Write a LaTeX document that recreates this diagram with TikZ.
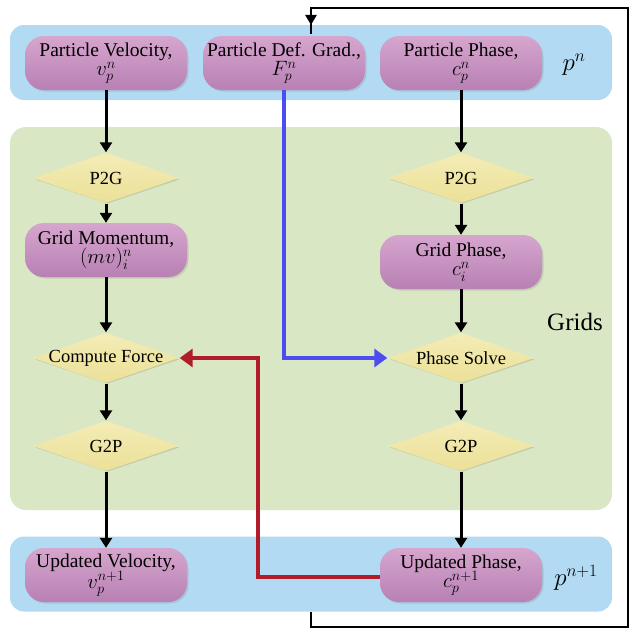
\documentclass[tikz,border=0pt]{standalone}
\usepackage{fontspec}
\setmainfont{Liberation Serif}
\usetikzlibrary{shapes.geometric,shadows,arrows.meta}
\definecolor{bandblue}{RGB}{178,218,242}
\definecolor{gridgreen}{RGB}{217,231,197}
\definecolor{pinktop}{RGB}{214,166,206}
\definecolor{pinkbot}{RGB}{184,128,180}
\definecolor{yeltop}{RGB}{243,236,182}
\definecolor{yelbot}{RGB}{236,224,152}
\definecolor{bluearrow}{RGB}{76,76,240}
\definecolor{redarrow}{RGB}{176,28,42}
\tikzset{
  band/.style={fill=bandblue, rounded corners=14pt, minimum width=602pt, minimum height=75pt, inner sep=0pt},
  gridbox/.style={fill=gridgreen, rounded corners=16pt, minimum width=602pt, minimum height=383pt, inner sep=0pt},
  pbox/.style={rectangle, rounded corners=19pt, top color=pinktop, bottom color=pinkbot, minimum width=162pt, minimum height=54pt, align=center, font=\fontsize{19.5}{21}\selectfont, inner sep=1pt, drop shadow={opacity=0.25, shadow xshift=1.5pt, shadow yshift=-1.5pt}},
  dbox/.style={rectangle, minimum width=147pt, minimum height=51pt, inner sep=0pt, font=\fontsize{18.5}{20}\selectfont,
    path picture={
      \fill[black, opacity=0.12] ([xshift=1.5pt,yshift=-1.5pt]path picture bounding box.north) -- ([xshift=-0.5pt,yshift=-1.5pt]path picture bounding box.east) -- ([xshift=1.5pt]path picture bounding box.south) -- ([xshift=3pt,yshift=-1.5pt]path picture bounding box.west) -- cycle;
      \shade[top color=yeltop, bottom color=yelbot, rounded corners=2pt] ([yshift=-0.3pt]path picture bounding box.north) -- ([xshift=-0.5pt]path picture bounding box.east) -- ([yshift=0.5pt]path picture bounding box.south) -- ([xshift=0.5pt]path picture bounding box.west) -- cycle;
    }},
  blk/.style={draw=black, line width=3pt, -{Triangle[length=10pt,width=12pt]}},
  loopline/.style={draw=black, line width=2.6pt},
  bluearr/.style={draw=bluearrow, line width=4.5pt, -{Triangle[length=13pt,width=18pt]}},
  redarr/.style={draw=redarrow, line width=4.5pt, -{Triangle[length=13pt,width=18pt]}},
  biglabel/.style={font=\fontsize{25}{26}\selectfont}
}
\begin{document}
\begin{tikzpicture}[x=1pt,y=-1pt]
\useasboundingbox (0,0) rectangle (634,632);
\fill[white] (0,0) rectangle (634,632);
% backgrounds
\node[band] (topband) at (311,62.5) {};
\node[gridbox] (grid) at (311,318.5) {};
\node[band] (botband) at (311,574) {};
% top nodes
\node[pbox] (pv) at (106,63) {Particle Velocity,\\[-1.5pt] $v_p^n$};
\node[pbox] (pd) at (284,63) {Particle Def. Grad.,\\[-1.5pt] $F_p^n$};
\node[pbox] (pc) at (461,63) {Particle Phase,\\[-1.5pt] $c_p^n$};
\node[biglabel] (pn) at (574,65) {$p^n$};
% left column
\node[dbox] (p2gl) at (106,178) {P2G};
\node[pbox] (gm) at (106,250) {Grid Momentum,\\[-1.5pt] $(mv)_i^n$};
\node[dbox] (cf) at (106,358) {Compute Force};
\node[dbox] (g2pl) at (106,446) {G2P};
% right column
\node[dbox] (p2gr) at (461,178) {P2G};
\node[pbox] (gp) at (461,262) {Grid Phase,\\[-1.5pt] $c_i^n$};
\node[dbox] (ps) at (461,358) {Phase Solve};
\node[dbox] (g2pr) at (461,446) {G2P};
\node[biglabel] (gridlabel) at (575,322) {Grids};
% bottom nodes
\node[pbox] (uv) at (106,575) {Updated Velocity,\\[-1.5pt] $v_p^{n+1}$};
\node[pbox] (uc) at (461,575) {Updated Phase,\\[-1.5pt] $c_p^{n+1}$};
\node[biglabel] (pn1) at (576,578) {$p^{n+1}$};
% black arrows
\draw[blk] (pv) -- (p2gl);
\draw[blk] (p2gl) -- (gm);
\draw[blk] (gm) -- (cf);
\draw[blk] (cf) -- (g2pl);
\draw[blk] (g2pl) -- (uv);
\draw[blk] (pc) -- (p2gr);
\draw[blk] (p2gr) -- (gp);
\draw[blk] (gp) -- (ps);
\draw[blk] (ps) -- (g2pr);
\draw[blk] (g2pr) -- (uc);
% loop
\coordinate (loopbr) at (628,627);
\coordinate (looptr) at (628,8);
\draw[loopline] (botband.south) |- (loopbr) -- (looptr) -| ([yshift=-9pt]topband.north);
\fill[black] (topband.north) -- ++(-6,-10) -- ++(12,0) -- cycle;
% blue and red
\draw[bluearr] (pd.south) |- (ps.west);
\coordinate (redx) at (258,0);
\draw[redarr] ([yshift=-2pt]uc.west) -- ([yshift=-2pt]uc.west -| redx) |- (cf.east);
\end{tikzpicture}
\end{document}
